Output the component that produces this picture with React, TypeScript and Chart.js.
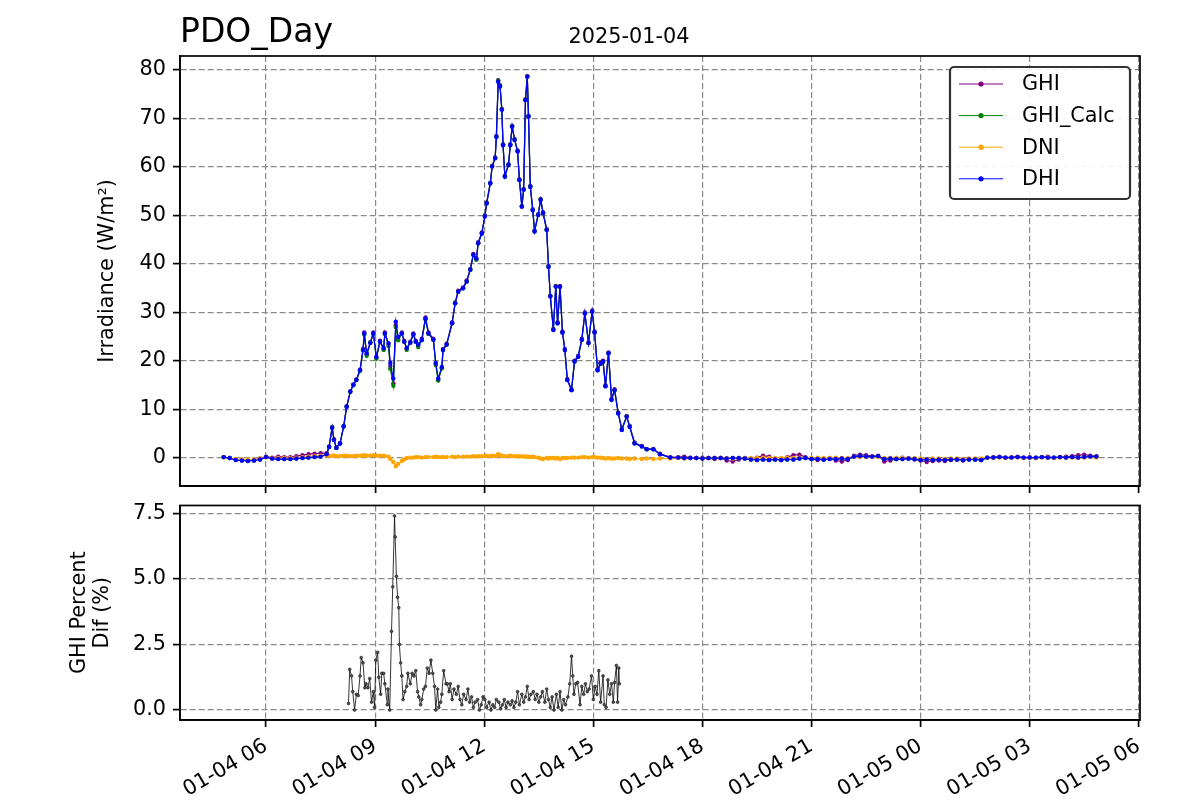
import React, { useEffect, useRef } from 'react';
import { Chart, registerables } from 'chart.js';

Chart.register(...registerables);

// ---------- text ----------
const chartTitle = 'PDO_Day';
const chartDate = '2025-01-04';
const topYLabel = 'Irradiance (W/m²)';
const bottomYLabel = ['GHI Percent', 'Dif (%)'];
const seriesNames = ['GHI', 'GHI_Calc', 'DNI', 'DHI'];
const seriesColors = ['#800080', '#008000', '#FFA500', '#0000FF'];

// ---------- axes ----------
const xTickHours = [6, 9, 12, 15, 18, 21, 24, 27, 30];
const xTickLabels = ['01-04 06', '01-04 09', '01-04 12', '01-04 15', '01-04 18', '01-04 21', '01-05 00', '01-05 03', '01-05 06'];
const irrTicks = [0, 10, 20, 30, 40, 50, 60, 70, 80];
const pctTicks = [0, 2.5, 5, 7.5];
const X_MIN = 3.633;
const X_MAX = 30.033;
const IRR_MIN = -5.76;
const IRR_MAX = 82.9;
const PCT_MIN = -0.38;
const PCT_MAX = 7.8;

// ---------- top panel data (minutes after 2025-01-04 00:00) ----------
const topMinutes = [
  290, 300, 310, 320, 330, 340, 350, 360, 370, 380, 390, 400, 410, 420, 430, 440, 450, 460,
  464, 469, 472, 476, 482, 488, 493, 499, 504, 509,
  515, 520, 522, 526, 532, 537, 542, 548, 554, 556,
  562, 565, 570, 574, 578, 584, 588, 592, 598, 603,
  607, 611, 617, 623, 628, 636, 640, 644, 650, 652,
  658, 667, 672, 677, 685, 691, 697, 702, 707, 710,
  716, 721, 724, 730, 733, 738, 740, 743, 746, 749,
  751, 754, 760, 763, 766, 770, 775, 778, 782, 785,
  788, 791, 793, 796, 800, 803, 809, 813, 817, 823,
  826, 829, 834, 838, 841, 845, 849, 853, 857, 864,
  869, 875, 881, 886, 892, 898, 902, 907, 912, 916,
  920, 925, 930, 935, 941, 947, 955, 960, 968, 980,
  988, 999, 1010, 1027,
  1040, 1050, 1060, 1070, 1080, 1090, 1100, 1110, 1120, 1130, 1140, 1150,
  1160, 1170, 1180, 1190, 1200, 1210, 1220, 1230,
  1240, 1250,
  1260, 1270, 1280, 1290, 1300, 1310, 1320,
  1330, 1340, 1350, 1360, 1370,
  1380, 1390, 1400, 1410, 1420, 1430,
  1440, 1450, 1460, 1470, 1480, 1490, 1500, 1510, 1520, 1530, 1540,
  1550, 1560, 1570, 1580, 1590, 1600, 1610, 1620, 1630, 1640, 1650, 1660, 1670, 1680, 1690, 1700, 1710, 1720, 1730,
];

const ghi = [
  0.2, 0.0, -0.3, -0.4, -0.5, -0.4, -0.1, 0.3, 0.1, 0.3, 0.2, 0.2, 0.4, 0.6, 0.8, 0.9, 1.0, 1.0,
  2.4, 6.4, 3.9, 2.2, 3.1, 6.6, 10.7, 13.8, 15.2, 16.2,
  18.2, 22.5, 25.9, 21.4, 23.9, 25.9, 20.7, 24.2, 22.5, 25.9,
  23.5, 19.0, 15.4, 27.4, 24.6, 25.9, 24.2, 22.5, 24.0, 25.7,
  24.2, 23.2, 24.6, 29.0, 25.9, 24.6, 19.4, 16.2, 18.6, 22.5,
  23.6, 28.0, 32.1, 34.5, 35.2, 36.6, 39.0, 42.1, 41.0, 44.5,
  46.5, 50.0, 52.7, 56.8, 60.3, 62.0, 66.4, 77.9, 76.9, 72.0,
  64.7, 58.2, 60.6, 64.7, 68.5, 65.8, 63.4, 57.5, 52.0, 55.5,
  74.0, 78.8, 70.6, 56.1, 51.3, 46.9, 50.3, 53.4, 50.7, 47.2,
  39.6, 33.5, 26.6, 35.5, 28.0, 35.5, 26.1, 22.5, 16.3, 14.2,
  20.1, 21.1, 24.6, 30.0, 23.9, 30.4, 26.1, 18.3, 19.7, 20.1,
  15.0, 21.8, 12.2, 14.2, 9.4, 6.0, 8.7, 6.6, 3.2, 2.5,
  1.9, 1.9, 0.9, 0.2,
  0.2, 0.3, 0.1, 0.0, 0.1, 0.0, -0.2, 0.0, -0.5, -0.7, -0.3, 0.0,
  -0.2, 0.1, 0.5, 0.3, -0.2, -0.4, 0.2, 0.6,
  0.7, 0.2,
  -0.2, -0.4, -0.3, 0.0, -0.5, -0.7, -0.4,
  0.5, 0.7, 0.6, 0.4, 0.5,
  -0.7, -0.5, -0.2, 0.1, -0.1, -0.3,
  -0.5, -0.8, -0.6, -0.5, -0.6, -0.4, -0.3, -0.5, -0.2, -0.3, -0.4,
  0.1, 0.2, 0.3, 0.1, 0.2, 0.3, 0.1, 0.2, 0.0, 0.2, 0.3, 0.1, 0.2, 0.3, 0.4, 0.6, 0.7, 0.5, 0.4,
];

const ghiCalc = [
  0.2, 0.0, -0.4, -0.5, -0.6, -0.5, -0.3, 0.2, -0.1, -0.2, -0.2, -0.2, -0.1, 0.0, 0.1, 0.2, 0.3, 0.8,
  2.3, 6.3, 3.8, 2.1, 3.0, 6.5, 10.6, 13.6, 15.0, 16.1,
  18.0, 22.2, 25.5, 21.1, 23.8, 25.6, 20.5, 24.0, 22.3, 25.6,
  23.1, 18.4, 14.9, 27.0, 24.3, 25.7, 24.0, 22.3, 23.8, 25.5,
  24.0, 22.9, 24.3, 28.6, 25.6, 24.4, 19.2, 16.0, 18.5, 22.3,
  23.4, 27.8, 31.9, 34.3, 35.0, 36.4, 38.9, 41.9, 40.9, 44.3,
  46.3, 49.9, 52.6, 56.7, 60.2, 61.9, 66.3, 77.8, 76.8, 71.9,
  64.6, 58.1, 60.5, 64.6, 68.4, 65.7, 63.3, 57.4, 51.9, 55.4,
  73.9, 78.7, 70.5, 56.0, 51.2, 46.8, 50.2, 53.3, 50.6, 47.1,
  39.5, 33.4, 26.5, 35.4, 27.8, 35.3, 25.9, 22.3, 16.1, 14.0,
  19.9, 20.9, 24.4, 29.8, 23.7, 30.2, 25.9, 18.1, 19.4, 19.8,
  14.8, 21.6, 12.0, 14.0, 9.3, 5.9, 8.6, 6.5, 3.1, 2.4,
  1.8, 1.8, 0.8, 0.1,
  0.1, 0.0, 0.0, 0.0, -0.1, 0.0, 0.0, 0.0, -0.1, 0.0, 0.0, -0.1,
  -0.3, -0.4, -0.3, -0.4, -0.3, -0.4, -0.3, -0.3,
  -0.1, 0.0,
  -0.2, -0.2, -0.3, -0.2, -0.2, -0.1, -0.2,
  0.3, 0.4, 0.3, 0.3, 0.4,
  -0.2, -0.1, -0.2, -0.2, -0.1, -0.2,
  -0.4, -0.3, -0.4, -0.3, -0.4, -0.3, -0.3, -0.4, -0.3, -0.3, -0.4,
  0.1, 0.1, 0.2, 0.1, 0.1, 0.2, 0.1, 0.1, 0.1, 0.2, 0.1, 0.1, 0.2, 0.1, 0.2, 0.1, 0.2, 0.3, 0.3,
];

const dni = [
  0.1, 0.0, -0.2, -0.3, -0.3, -0.3, -0.1, 0.1, 0.0, 0.0, 0.0, 0.0, 0.1, 0.2, 0.3, 0.4, 0.5, 0.5,
  0.5, 0.5, 0.5, 0.4, 0.4, 0.5, 0.5, 0.4, 0.4, 0.5,
  0.5, 0.5, 0.6, 0.5, 0.5, 0.6, 0.5, 0.5, 0.5, 0.4,
  0.3, -0.2, -0.8, -1.7, -1.2, -0.6, -0.3, 0.0, 0.1, 0.1,
  0.2, 0.2, 0.1, 0.2, 0.2, 0.2, 0.3, 0.2, 0.2, 0.2,
  0.2, 0.3, 0.2, 0.3, 0.3, 0.3, 0.3, 0.4, 0.3, 0.4,
  0.4, 0.4, 0.5, 0.4, 0.5, 0.4, 0.5, 0.8, 0.6, 0.5,
  0.4, 0.4, 0.4, 0.5, 0.4, 0.4, 0.4, 0.3, 0.4, 0.3,
  0.3, 0.3, 0.3, 0.2, 0.3, 0.2, 0.1, -0.1, -0.2, 0.0,
  -0.1, 0.0, 0.0, -0.1, 0.0, -0.2, 0.0, 0.0, 0.0, 0.1,
  0.1, 0.1, 0.2, 0.2, 0.1, 0.2, 0.2, 0.1, 0.1, 0.0,
  -0.1, 0.0, -0.1, -0.1, 0.0, -0.1, -0.1, -0.2, -0.1, -0.2,
  -0.1, -0.2, -0.1, -0.1,
  0.0, -0.1, 0.0, 0.0, -0.1, 0.0, 0.0, 0.0, 0.0, -0.1, 0.0, 0.0,
  0.0, 0.0, 0.1, 0.0, 0.0, 0.0, 0.1, 0.0,
  0.1, 0.0,
  0.0, 0.1, 0.0, 0.0, 0.1, 0.0, 0.0,
  0.3, 0.2, 0.2, 0.3, 0.2,
  0.0, 0.0, 0.1, 0.0, 0.0, 0.0,
  -0.1, -0.2, -0.1, -0.1, -0.2, -0.1, -0.1, -0.2, -0.1, -0.1, -0.1,
  0.1, 0.0, 0.1, 0.0, 0.1, 0.1, 0.0, 0.1, 0.0, 0.1, 0.1, 0.0, 0.1, 0.1, 0.1, 0.0, 0.1, 0.2, 0.1,
];

const dhi = [
  0.2, 0.0, -0.4, -0.5, -0.6, -0.5, -0.3, 0.2, -0.1, -0.2, -0.2, -0.2, -0.1, 0.0, 0.1, 0.2, 0.3, 0.8,
  2.3, 6.2, 3.7, 2.1, 3.0, 6.5, 10.6, 13.7, 15.1, 16.1,
  18.1, 22.3, 25.7, 21.6, 23.7, 25.7, 20.9, 24.0, 22.7, 25.7,
  23.7, 19.6, 16.4, 28.1, 25.0, 25.7, 24.0, 22.7, 23.8, 25.5,
  24.0, 23.4, 24.4, 28.8, 25.7, 24.4, 19.6, 16.4, 18.8, 22.3,
  23.4, 27.8, 31.9, 34.3, 35.0, 36.4, 38.8, 41.9, 41.2, 44.3,
  46.3, 49.8, 52.5, 56.6, 60.1, 61.8, 66.2, 77.6, 76.6, 71.8,
  64.5, 58.0, 60.4, 64.5, 68.3, 65.6, 63.2, 57.3, 51.8, 55.3,
  73.8, 78.6, 70.4, 55.9, 51.1, 46.7, 50.1, 53.2, 50.5, 47.0,
  39.4, 33.3, 26.4, 35.3, 27.8, 35.3, 25.9, 22.3, 16.1, 14.0,
  19.9, 20.9, 24.4, 29.8, 23.7, 30.2, 25.9, 18.1, 19.5, 19.9,
  14.8, 21.6, 12.0, 14.0, 9.2, 5.8, 8.5, 6.4, 3.0, 2.4,
  1.8, 1.8, 0.8, 0.1,
  0.1, 0.0, 0.0, 0.0, -0.1, 0.0, 0.0, 0.0, -0.1, 0.0, 0.0, -0.1,
  -0.3, -0.4, -0.3, -0.4, -0.3, -0.4, -0.3, -0.3,
  -0.1, 0.0,
  -0.2, -0.2, -0.3, -0.2, -0.2, -0.1, -0.2,
  0.3, 0.4, 0.3, 0.3, 0.4,
  -0.2, -0.1, -0.2, -0.2, -0.1, -0.2,
  -0.4, -0.3, -0.4, -0.3, -0.4, -0.3, -0.3, -0.4, -0.3, -0.3, -0.4,
  0.1, 0.1, 0.2, 0.1, 0.1, 0.2, 0.1, 0.1, 0.1, 0.2, 0.1, 0.1, 0.2, 0.1, 0.2, 0.1, 0.2, 0.3, 0.3,
];

// ---------- bottom panel data ----------
const pctMinutes = [
  496, 498, 501, 503, 506, 509, 512, 515, 517, 520,
  523, 525, 528, 531, 534, 537, 539, 541, 544, 546,
  549, 551, 554, 556, 560, 561, 564, 567, 569, 572,
  573, 575, 577, 579, 580, 582, 584, 586, 589, 592,
  594, 598, 601, 604, 607, 610, 612, 615, 617, 620,
  623, 626, 629, 632, 635, 638, 640, 643, 645, 648,
  650, 653, 657, 659, 662, 664, 667, 670,
  674, 677, 680, 683, 686, 690, 693, 696, 699, 702,
  705, 709, 712, 715, 718, 721, 724, 728, 731, 734,
  737, 740, 744, 747, 750, 753, 756, 759, 763, 766,
  769, 772, 775, 778, 782, 785, 788, 791, 794, 797,
  801, 804, 807, 810, 813, 816, 820, 823, 826, 829,
  832, 835, 839, 842, 845, 848, 851, 854, 858, 861,
  864, 866, 868, 871, 874, 878, 881, 884, 887, 890,
  893, 897, 900, 903, 906, 909, 912, 916, 918, 921,
  924, 927, 930, 933, 935, 938, 940, 942, 943,
];

const pctDif = [
  0.25, 1.55, 1.3, 0.7, 0.0, 0.6, 0.55, 1.3, 2.0, 1.8,
  0.85, 1.0, 0.85, 1.2, 0.3, 0.7, 0.1, 1.9, 2.2, 1.25,
  0.6, 1.4, 1.4, 1.0, 0.2, 0.8, 0.0, 3.0, 4.7, 7.4,
  6.6, 5.1, 4.3, 3.9, 2.5, 1.8, 1.3, 0.4, 0.7, 0.9,
  1.4, 1.0, 1.4, 1.3, 1.5, 0.7, 0.5, 0.2, 0.4, 0.8,
  0.9, 1.6, 1.4, 1.9, 1.4, 0.9, 0.0, 0.8, 0.1, 0.3,
  0.6, 1.5, 1.0, 1.0, 0.7, 1.0, 0.4, 0.8, 0.6, 0.9,
  0.4, 0.2, 0.6, 0.4, 0.8, 0.3, 0.5, 0.1, 0.3, 0.4,
  0.0, 0.2, 0.5, 0.4, 0.1, 0.3, 0.0, 0.2, 0.1, 0.4,
  0.3, 0.05, 0.2, 0.4, 0.1, 0.3, 0.2, 0.35, 0.1, 0.3,
  0.7, 0.2, 0.6, 0.3, 0.5, 0.9, 0.4, 0.6, 0.7, 0.4,
  0.6, 0.3, 0.5, 0.7, 0.3, 0.8, 0.4, 0.1, 0.5, 0.0,
  0.6, 0.1, 0.7, 0.0, 0.4, 0.2, 0.5, 1.0, 2.05, 1.3,
  0.6, 1.0, 1.05, 0.2, 0.9, 0.6, 1.0, 0.7, 0.8, 1.3,
  0.4, 0.9, 0.6, 1.5, 0.3, 1.3, 0.2, 0.1, 1.15, 0.6,
  1.0, 0.3, 1.05, 1.7, 0.3, 1.6, 1.0,
];

// ---------- styling ----------
const FONT = "'DejaVu Sans', sans-serif";
const FS = 20.8;
const GRID = '#8a8a8a';
const SPINE = 1.7;

const toPoints = (mins: number[], vals: number[]) => mins.map((m, i) => ({ x: m / 60, y: vals[i] }));

const framePlugin = {
  id: 'frame',
  afterDraw(chart: any) {
    const { ctx, chartArea: a } = chart;
    ctx.save();
    ctx.strokeStyle = '#000';
    ctx.lineWidth = SPINE;
    ctx.setLineDash([]);
    ctx.strokeRect(a.left, a.top, a.right - a.left, a.bottom - a.top);
    ctx.restore();
  },
};

const titlePlugin = {
  id: 'titles',
  afterDraw(chart: any) {
    const { ctx, chartArea: a } = chart;
    ctx.save();
    ctx.fillStyle = '#000';
    ctx.textBaseline = 'alphabetic';
    ctx.textAlign = 'left';
    ctx.font = `33px ${FONT}`;
    ctx.fillText(chartTitle, a.left, a.top - 14);
    ctx.textAlign = 'center';
    ctx.font = `${FS}px ${FONT}`;
    ctx.fillText(chartDate, 629, a.top - 13);
    ctx.restore();
  },
};

const legendPlugin = {
  id: 'customLegend',
  afterDraw(chart: any) {
    const { ctx, chartArea: a } = chart;
    const w = 180;
    const h = 132;
    const x0 = a.right - 10 - w;
    const y0 = a.top + 11;
    ctx.save();
    ctx.beginPath();
    const r = 4;
    ctx.moveTo(x0 + r, y0);
    ctx.arcTo(x0 + w, y0, x0 + w, y0 + h, r);
    ctx.arcTo(x0 + w, y0 + h, x0, y0 + h, r);
    ctx.arcTo(x0, y0 + h, x0, y0, r);
    ctx.arcTo(x0, y0, x0 + w, y0, r);
    ctx.closePath();
    ctx.fillStyle = 'rgba(255,255,255,0.9)';
    ctx.fill();
    ctx.strokeStyle = '#333';
    ctx.lineWidth = 2.2;
    ctx.stroke();
    seriesNames.forEach((name, i) => {
      const cy = y0 + 17 + i * 31.6;
      ctx.strokeStyle = seriesColors[i];
      ctx.lineWidth = 1;
      ctx.beginPath();
      ctx.moveTo(x0 + 9, cy);
      ctx.lineTo(x0 + 53, cy);
      ctx.stroke();
      ctx.fillStyle = seriesColors[i];
      ctx.beginPath();
      ctx.arc(x0 + 31, cy, 2.6, 0, Math.PI * 2);
      ctx.fill();
      ctx.fillStyle = '#000';
      ctx.font = `${FS}px ${FONT}`;
      ctx.textAlign = 'left';
      ctx.textBaseline = 'middle';
      ctx.fillText(name, x0 + 72, cy + 1);
    });
    ctx.restore();
  },
};

function xScale(showLabels: boolean, height: number) {
  return {
    type: 'linear',
    min: X_MIN,
    max: X_MAX,
    afterBuildTicks: (s: any) => {
      s.ticks = xTickHours.map((v) => ({ value: v }));
    },
    afterFit: (s: any) => {
      s.height = height;
    },
    grid: {
      color: GRID,
      lineWidth: 1.2,
      drawTicks: true,
      tickLength: 7,
      tickColor: '#000',
      tickWidth: SPINE,
      tickBorderDash: [],
    },
    border: { display: true, color: '#000', width: SPINE, dash: [6, 3] },
    ticks: {
      display: showLabels,
      autoSkip: false,
      maxRotation: 30,
      minRotation: 30,
      padding: 7,
      color: '#000',
      font: { family: FONT, size: FS },
      callback: (_v: any, i: number) => xTickLabels[i],
    },
  };
}

function yScale(min: number, max: number, ticks: number[], title: string | string[], titlePad: number, fmt: (v: number) => string) {
  return {
    type: 'linear',
    min,
    max,
    afterBuildTicks: (s: any) => {
      s.ticks = ticks.map((v) => ({ value: v }));
    },
    afterFit: (s: any) => {
      s.width = 180;
    },
    grid: {
      color: GRID,
      lineWidth: 1.2,
      drawTicks: true,
      tickLength: 7,
      tickColor: '#000',
      tickWidth: SPINE,
      tickBorderDash: [],
    },
    border: { display: true, color: '#000', width: SPINE, dash: [6, 3] },
    ticks: {
      autoSkip: false,
      padding: 7,
      color: '#000',
      font: { family: FONT, size: FS },
      callback: (v: any) => fmt(Number(v)),
    },
    title: {
      display: true,
      text: title,
      color: '#000',
      font: { family: FONT, size: FS, lineHeight: 1.12 },
      padding: { top: titlePad, bottom: 0 },
    },
  };
}

function lineDataset(label: string, color: string, data: any[]) {
  return {
    label,
    data,
    borderColor: color,
    backgroundColor: color,
    borderWidth: 1.2,
    pointRadius: 2.2,
    pointHoverRadius: 0,
    pointBorderWidth: 0,
    pointBackgroundColor: color,
    tension: 0,
  };
}

export default function App() {
  const topRef = useRef<HTMLCanvasElement>(null);
  const botRef = useRef<HTMLCanvasElement>(null);

  useEffect(() => {
    const top = new Chart(topRef.current as HTMLCanvasElement, {
      type: 'line',
      data: {
        datasets: [
          lineDataset(seriesNames[3], seriesColors[3], toPoints(topMinutes, dhi)),
          lineDataset(seriesNames[2], seriesColors[2], toPoints(topMinutes, dni)),
          lineDataset(seriesNames[1], seriesColors[1], toPoints(topMinutes, ghiCalc)),
          lineDataset(seriesNames[0], seriesColors[0], toPoints(topMinutes, ghi)),
        ],
      },
      options: {
        responsive: false,
        animation: false,
        devicePixelRatio: 1,
        events: [],
        layout: { padding: { top: 56, right: 60, bottom: 0, left: 0 } },
        plugins: { legend: { display: false }, tooltip: { enabled: false } },
        scales: {
          x: xScale(false, 20),
          y: yScale(IRR_MIN, IRR_MAX, irrTicks, topYLabel, 96, (v) => String(v)),
        },
      } as any,
      plugins: [framePlugin, titlePlugin, legendPlugin],
    });

    const bottom = new Chart(botRef.current as HTMLCanvasElement, {
      type: 'line',
      data: {
        datasets: [
          {
            label: 'GHI Percent Dif',
            data: toPoints(pctMinutes, pctDif),
            borderColor: '#000',
            backgroundColor: '#000',
            borderWidth: 0.8,
            pointRadius: 1.4,
            pointHoverRadius: 0,
            pointBorderWidth: 0.6,
            pointBorderColor: '#111',
            pointBackgroundColor: '#555',
            tension: 0,
          },
        ],
      },
      options: {
        responsive: false,
        animation: false,
        devicePixelRatio: 1,
        events: [],
        layout: { padding: { top: 0, right: 60, bottom: 0, left: 0 } },
        plugins: { legend: { display: false }, tooltip: { enabled: false } },
        scales: {
          x: xScale(true, 80),
          y: yScale(PCT_MIN, PCT_MAX, pctTicks, bottomYLabel, 68, (v) => v.toFixed(1)),
        },
      } as any,
      plugins: [framePlugin],
    });

    return () => {
      top.destroy();
      bottom.destroy();
    };
  }, []);

  return (
    <div style={{ position: 'fixed', left: 0, top: 0, width: 1200, height: 800, background: '#fff' }}>
      <canvas ref={topRef} width={1200} height={506} style={{ position: 'absolute', left: 0, top: 0, width: 1200, height: 506 }} />
      <canvas ref={botRef} width={1200} height={314} style={{ position: 'absolute', left: 0, top: 486, width: 1200, height: 314 }} />
    </div>
  );
}
